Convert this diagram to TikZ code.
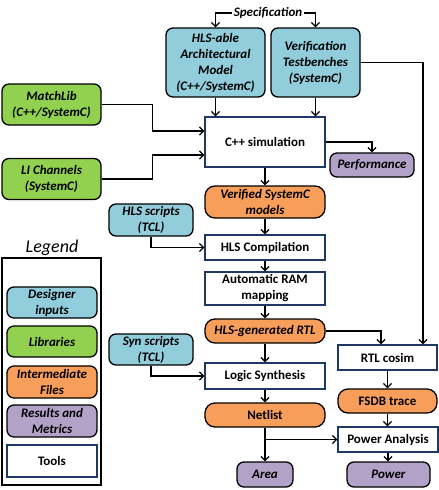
\documentclass[tikz,border=0pt]{standalone}
\usepackage{fontspec}
\setmainfont{Carlito}
\usepackage{tikz}
\usepackage{xcolor}
\usetikzlibrary{
    arrows.meta,
    calc,
    positioning
}
\definecolor{dsgnblue}{HTML}{92CDDC}
\definecolor{libgreen}{HTML}{92D050}
\definecolor{intorange}{HTML}{F79E5A}
\definecolor{respurple}{HTML}{B3A2C7}
\definecolor{toolblue}{HTML}{203864}
\newcommand{\dgmfont}{\fontsize{13}{16}\selectfont}
\tikzset{fbox/.style={draw=black, line width=1.3pt, rounded corners=7pt, align=center, inner sep=0pt, font=\dgmfont\bfseries\itshape}}
\tikzset{dsgn/.style={fbox, fill=dsgnblue}}
\tikzset{lib/.style={fbox, fill=libgreen}}
\tikzset{intf/.style={fbox, fill=intorange, rounded corners=10pt}}
\tikzset{resm/.style={fbox, fill=respurple}}
\tikzset{tool/.style={draw=toolblue, line width=1.3pt, fill=white, align=center, inner sep=0pt, font=\dgmfont\bfseries}}
\tikzset{conn/.style={line width=1.3pt, -{Straight Barb[length=4pt,width=8pt]}}}

\begin{document}
\begin{tikzpicture}[x=1pt, y=-1pt]
                        \useasboundingbox (0, 0) rectangle (439, 490);

                        \node[font=\dgmfont\bfseries\itshape, inner sep=2pt] (spec) at (268, 13) {Specification};
                        \node[dsgn, minimum width=99, minimum height=69] (arch) at (215.5, 62.5) {HLS-able\\Architectural\\Model\\(C++/SystemC)};
                        \node[dsgn, minimum width=89, minimum height=69] (tb) at (315.5, 62.5) {Verification\\Testbenches\\(SystemC)};
                        \node[tool, minimum width=120, minimum height=50] (sim) at (265, 142) {C++ simulation};
                        \node[lib, minimum width=99, minimum height=41] (mlib) at (51.5, 104.5) {MatchLib\\(C++/SystemC)};
                        \node[lib, minimum width=99, minimum height=41] (lich) at (51.5, 179) {LI Channels\\(SystemC)};
                        \node[resm, minimum width=84, minimum height=24] (perf) at (372, 165) {Performance};
                        \node[intf, minimum width=120, minimum height=32] (vsc) at (265, 202) {Verified SystemC\\models};
                        \node[dsgn, minimum width=84, minimum height=32] (hlss) at (151, 220) {HLS scripts\\(TCL)};
                        \node[tool, minimum width=120, minimum height=25] (hlsc) at (265, 247.5) {HLS Compilation};
                        \node[tool, minimum width=120, minimum height=33] (ram) at (265, 288.5) {Automatic RAM\\mapping};
                        \node[intf, minimum width=120, minimum height=24] (rtl) at (265, 331) {HLS-generated RTL};
                        \node[tool, minimum width=99, minimum height=25] (cosim) at (387.5, 357.5) {RTL cosim};
                        \node[dsgn, minimum width=84, minimum height=31] (syns) at (151, 349.5) {Syn scripts\\(TCL)};
                        \node[tool, minimum width=120, minimum height=26] (lsyn) at (265, 376) {Logic Synthesis};
                        \node[intf, minimum width=120, minimum height=24, font=\dgmfont\bfseries] (net) at (265, 415) {Netlist};
                        \node[intf, minimum width=99, minimum height=24, font=\dgmfont\bfseries] (fsdb) at (387.5, 401) {FSDB trace};
                        \node[tool, minimum width=100, minimum height=25] (pwra) at (388, 439.5) {Power Analysis};
                        \node[resm, minimum width=56, minimum height=25] (area) at (265, 474.5) {Area};
                        \node[resm, minimum width=83, minimum height=25] (pwr) at (388.5, 474.5) {Power};

                        \node[font=\fontsize{18}{20}\selectfont\itshape] (legt) at (52, 248) {Legend};
                        \node[draw=black, line width=1.3pt, minimum width=99, minimum height=227] (legbox) at (51.5, 371.5) {};
                        \node[dsgn, minimum width=90, minimum height=31] (ldsgn) at (52, 302.5) {Designer\\inputs};
                        \node[lib, minimum width=90, minimum height=31] (llib) at (52, 341.5) {Libraries};
                        \node[intf, rounded corners=7pt, minimum width=90, minimum height=32] (lintf) at (52, 382) {Intermediate\\Files};
                        \node[resm, minimum width=90, minimum height=32] (lresm) at (52, 421) {Results and\\Metrics};
                        \node[tool, minimum width=90, minimum height=32] (ltool) at (52, 461) {Tools};

                        \draw[conn] (spec.west) -| (arch.north);
                        \draw[conn] (spec.east) -| (tb.north);
                        \draw[conn] (arch.south) -- (arch.south |- sim.north);
                        \draw[conn] (tb.south) -- (tb.south |- sim.north);
                        \draw[conn] (mlib.east) -- ++(51, 0) |- ([yshift=11pt]sim.west);
                        \draw[conn] (lich.east) -- ++(51, 0) |- ([yshift=-13pt]sim.west);
                        \draw[conn] (sim.east) -| (perf.north);
                        \draw[conn] (sim.south) -- (vsc.north);
                        \draw[conn] (hlss.south) |- (hlsc.west);
                        \draw[conn] (vsc.south) -- (hlsc.north);
                        \draw[conn] (hlsc.south) -- (ram.north);
                        \draw[conn] (ram.south) -- (rtl.north);
                        \draw[conn] (rtl.east) -| ([xshift=-6.5pt]cosim.north);
                        \draw[conn] (tb.east) -| ([xshift=35.5pt]cosim.north);
                        \draw[conn] (rtl.south) -- (lsyn.north);
                        \draw[conn] (syns.south) |- (lsyn.west);
                        \draw[conn] (lsyn.south) -- (net.north);
                        \draw[conn] (cosim.south) -- (fsdb.north);
                        \draw[conn] (fsdb.south) -- (fsdb.south |- pwra.north);
                        \draw[conn] (net.south) |- (pwra.west);
                        \draw[conn] (net.south) -- (area.north);
                        \draw[conn] (pwra.south) -- (pwra.south |- pwr.north);
                    \end{tikzpicture}
\end{document}
